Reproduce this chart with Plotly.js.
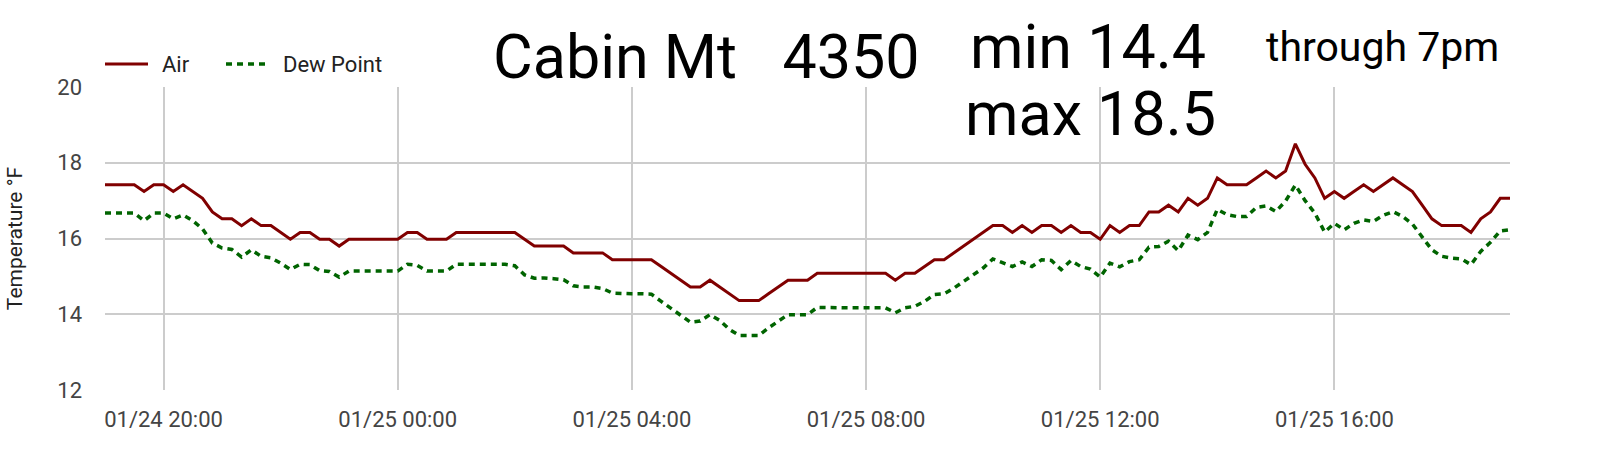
<!DOCTYPE html>
<html>
<head>
<meta charset="utf-8">
<script src="https://cdn.plot.ly/plotly-3.0.1.min.js"></script>
<style>html,body{margin:0;padding:0;background:#fff;}#chart{width:1600px;height:476px;}</style>
</head>
<body>
<div id="chart"></div>
<script>
// Readings every 10 minutes from 01/24 19:00 to 01/25 19:00
const startTime = "2025-01-24 19:00";
const stepMinutes = 10;

const airTemp = [
  17.42,17.42,17.42,17.42,17.24,17.42,17.42,17.24,17.42,17.24,
  17.06,16.70,16.52,16.52,16.34,16.52,16.34,16.34,16.16,15.98,
  16.16,16.16,15.98,15.98,15.80,15.98,15.98,15.98,15.98,15.98,
  15.98,16.16,16.16,15.98,15.98,15.98,16.16,16.16,16.16,16.16,
  16.16,16.16,16.16,15.98,15.80,15.80,15.80,15.80,15.62,15.62,
  15.62,15.62,15.44,15.44,15.44,15.44,15.44,15.26,15.08,14.90,
  14.72,14.72,14.90,14.72,14.54,14.36,14.36,14.36,14.54,14.72,
  14.90,14.90,14.90,15.08,15.08,15.08,15.08,15.08,15.08,15.08,
  15.08,14.90,15.08,15.08,15.26,15.44,15.44,15.62,15.80,15.98,
  16.16,16.34,16.34,16.16,16.34,16.16,16.34,16.34,16.16,16.34,
  16.16,16.16,15.98,16.34,16.16,16.34,16.34,16.70,16.70,16.88,
  16.70,17.06,16.88,17.06,17.60,17.42,17.42,17.42,17.60,17.78,
  17.60,17.78,18.50,17.96,17.60,17.06,17.24,17.06,17.24,17.42,
  17.24,17.42,17.60,17.42,17.24,16.88,16.52,16.34,16.34,16.34,
  16.16,16.52,16.70,17.06,17.06
];

const dewPoint = [
  16.67,16.67,16.67,16.67,16.47,16.67,16.67,16.52,16.62,16.47,
  16.25,15.88,15.75,15.71,15.51,15.70,15.53,15.49,15.35,15.18,
  15.32,15.31,15.15,15.13,14.98,15.14,15.14,15.14,15.14,15.14,
  15.14,15.32,15.29,15.14,15.14,15.14,15.32,15.32,15.32,15.32,
  15.32,15.32,15.28,15.04,14.95,14.96,14.94,14.91,14.75,14.72,
  14.72,14.68,14.56,14.54,14.54,14.54,14.53,14.34,14.15,13.96,
  13.79,13.82,13.99,13.84,13.60,13.44,13.44,13.44,13.64,13.82,
  13.99,13.99,13.99,14.18,14.17,14.17,14.17,14.17,14.17,14.17,
  14.17,14.04,14.17,14.21,14.34,14.52,14.54,14.69,14.87,15.03,
  15.22,15.46,15.37,15.26,15.38,15.26,15.44,15.42,15.18,15.42,
  15.26,15.19,14.98,15.35,15.25,15.39,15.44,15.77,15.79,15.93,
  15.68,16.09,15.97,16.16,16.77,16.63,16.58,16.58,16.82,16.86,
  16.71,16.99,17.41,17.00,16.67,16.17,16.40,16.23,16.40,16.49,
  16.45,16.61,16.71,16.58,16.38,16.05,15.70,15.53,15.48,15.46,
  15.31,15.66,15.90,16.20,16.23
];

const seriesNames = ["Air", "Dew Point"];
const seriesColors = ["#800000", "#006400"];
const seriesDash = ["solid", "6px,5px"];
const seriesWidth = [3, 3.5];
const yTicks = [12, 14, 16, 18, 20];
const xRange = ["2025-01-24 19:00", "2025-01-25 19:00"];
const titleText = "Cabin Mt\u00a0\u00a0\u00a04350";
const minText = "min 14.4";
const maxText = "max 18.5";
const throughText = "through 7pm";

function pad(n){ return (n < 10 ? "0" : "") + n; }
function timeAt(i){
  const p = startTime.split(/[- :]/).map(Number);
  const d = new Date(Date.UTC(p[0], p[1]-1, p[2], p[3], p[4]) + i*stepMinutes*60000);
  return d.getUTCFullYear()+"-"+pad(d.getUTCMonth()+1)+"-"+pad(d.getUTCDate())+" "+pad(d.getUTCHours())+":"+pad(d.getUTCMinutes());
}
const times = airTemp.map((_, i) => timeAt(i));

const FONT = "Roboto, 'Noto Sans', sans-serif";

const traces = [
  {x: times, y: airTemp, name: seriesNames[0], type: "scatter", mode: "lines",
   line: {color: seriesColors[0], width: seriesWidth[0], dash: seriesDash[0]}},
  {x: times, y: dewPoint, name: seriesNames[1], type: "scatter", mode: "lines",
   line: {color: seriesColors[1], width: seriesWidth[1], dash: seriesDash[1]}}
];

const L = 105, R = 90, T = 87, B = 86, W = 1600, H = 476;
const pw = W - L - R, ph = H - T - B;
function px(x){ return (x - L) / pw; }
function py(y){ return (H - B - y) / ph; }

// legend drawn as samples + labels (positions in page pixels)
const legendY = 64;
const legendItems = [
  {x0: 105, x1: 148, tx: 160},
  {x0: 226, x1: 270, tx: 281}
];
const legendShapes = legendItems.map((it, k) => ({
  type: "line", xref: "paper", yref: "paper",
  x0: px(it.x0), x1: px(it.x1), y0: py(legendY), y1: py(legendY),
  line: {color: seriesColors[k], width: seriesWidth[k], dash: seriesDash[k]}
}));
const legendLabels = legendItems.map((it, k) => ({
  text: seriesNames[k], xref: "paper", yref: "paper", x: px(it.tx), y: py(legendY),
  xanchor: "left", yanchor: "middle", showarrow: false,
  font: {family: FONT, size: 22, color: "#222222"}
}));

const layout = {
  width: W, height: H,
  margin: {l: L, r: R, t: T, b: B, pad: 0},
  paper_bgcolor: "#ffffff", plot_bgcolor: "#ffffff",
  font: {family: FONT, size: 22, color: "#444444"},
  showlegend: false,
  xaxis: {type: "date", range: xRange, tick0: "2025-01-24 20:00", dtick: 4*3600000,
          tickformat: "%m/%d %H:%M", showgrid: true, gridcolor: "#cccccc", gridwidth: 1.5,
          zeroline: false, showline: false, ticks: "", ticklabelstandoff: 14,
          tickfont: {family: FONT, size: 22, color: "#444444"}},
  yaxis: {range: [12, 20], tickvals: yTicks, showgrid: true, gridcolor: "#cccccc", gridwidth: 1.5,
          zeroline: false, showline: false, ticks: "", ticklabelstandoff: 22,
          tickfont: {family: FONT, size: 22, color: "#444444"},
          title: {text: "Temperature °F", font: {family: FONT, size: 21, color: "#222222"}, standoff: 28}},
  shapes: legendShapes,
  annotations: legendLabels.concat([
    {text: titleText, xref: "paper", yref: "paper", x: px(491), y: py(57), xanchor: "left", yanchor: "middle",
     showarrow: false, font: {family: FONT, size: 61, color: "#000000"}},
    {text: minText, xref: "paper", yref: "paper", x: px(968), y: py(47), xanchor: "left", yanchor: "middle",
     showarrow: false, font: {family: FONT, size: 61, color: "#000000"}},
    {text: maxText, xref: "paper", yref: "paper", x: px(963), y: py(114), xanchor: "left", yanchor: "middle",
     showarrow: false, font: {family: FONT, size: 61, color: "#000000"}},
    {text: throughText, xref: "paper", yref: "paper", x: px(1264), y: py(47), xanchor: "left", yanchor: "middle",
     showarrow: false, font: {family: FONT, size: 41, color: "#000000"}}
  ])
};

Plotly.newPlot("chart", traces, layout, {displayModeBar: false, responsive: false});
</script>
</body>
</html>
